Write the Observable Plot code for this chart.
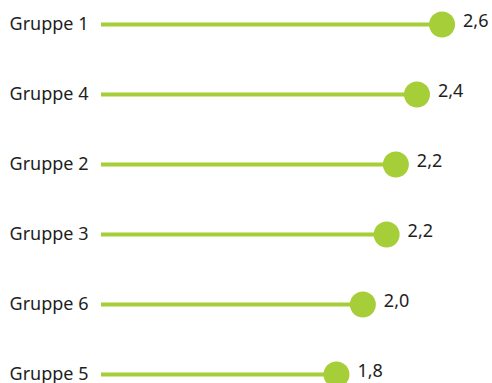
<!DOCTYPE html>
<html>
<head>
<meta charset="utf-8">
<script src="https://cdn.jsdelivr.net/npm/d3@7"></script>
<script src="https://cdn.jsdelivr.net/npm/@observablehq/plot@0.6"></script>
<style>
  html, body { margin: 0; padding: 0; background: #fff; }
  #chart { width: 492px; height: 383px; overflow: hidden; }
</style>
</head>
<body>
<div id="chart"></div>
<script>
// Groups in display order (sorted by score, descending)
const groups = ["Gruppe 1", "Gruppe 4", "Gruppe 2", "Gruppe 3", "Gruppe 6", "Gruppe 5"];
// Mean score per group
const scores = [2.58, 2.39, 2.23, 2.16, 1.98, 1.78];

const data = groups.map((g, i) => ({group: g, score: scores[i]}));

const green = "#a6ce39";
const font = "Noto Sans";
const fmt = v => v.toFixed(1).replace(".", ",");

const chart = Plot.plot({
  width: 492,
  height: 383,
  marginLeft: 101,
  marginRight: 47.8,
  marginTop: 23.4,
  marginBottom: 8,
  style: {fontFamily: font, fontSize: "18px", background: "#fff"},
  x: {domain: [0, 2.6], axis: null},
  y: {type: "point", domain: groups, padding: 0},
  marks: [
    Plot.axisY({tickSize: 0, tickPadding: 13, fontSize: 18, fill: "#1e1e1e", label: null}),
    Plot.ruleY(data, {y: "group", x1: 0, x2: "score", stroke: green, strokeWidth: 4}),
    Plot.dot(data, {y: "group", x: "score", r: 13, fill: green}),
    Plot.text(data, {
      y: "group", x: "score", text: d => fmt(d.score),
      dx: 21, dy: -3, textAnchor: "start", fontSize: 18, fill: "#1e1e1e"
    })
  ]
});

document.getElementById("chart").append(chart);
</script>
</body>
</html>
